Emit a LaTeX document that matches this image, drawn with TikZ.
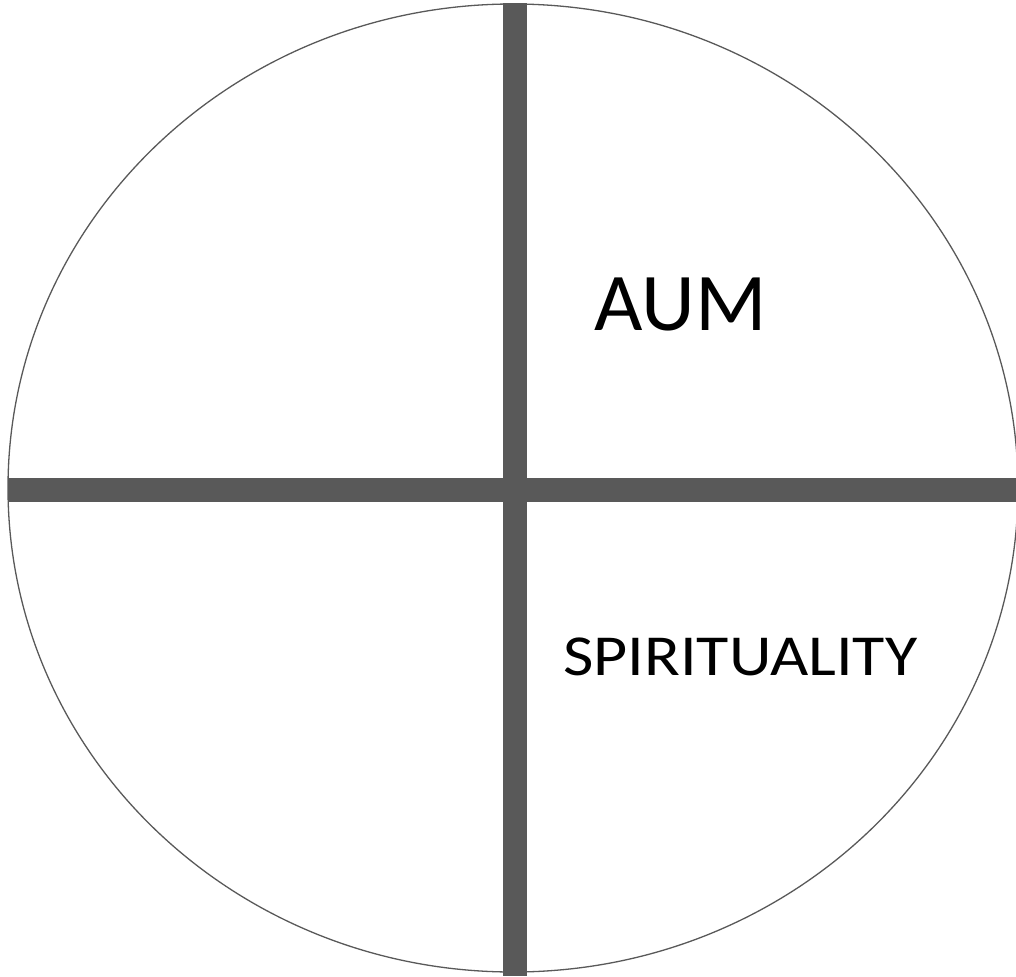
\documentclass[tikz,border=0pt]{standalone}
\usepackage{fontspec}
\setmainfont{Carlito}
\definecolor{bargray}{HTML}{595959}
\begin{document}
\begin{tikzpicture}[x=1pt,y=-1pt,
  bar/.style={fill=bargray,draw=none},
  rim/.style={draw=bargray,line width=1.3pt},
  lbl/.style={anchor=base west,inner sep=0pt,text=black}]
\useasboundingbox (0,0) rectangle (1016,976);
\begin{scope}
\clip (0,0) rectangle (1016,976);
\draw[rim] (513,488) ellipse [x radius=505, y radius=484];
\end{scope}
\fill[bar] (503,3) rectangle (527,976);
\fill[bar] (8,478) rectangle (1016,502);
\node[lbl,font=\fontsize{82}{90}\selectfont] (aum) at (594,330) {\scalebox{1.02}[1]{AUM}};
\node[lbl,font=\fontsize{58}{66}\selectfont] (spir) at (563,675) {\scalebox{1.14}[1]{SPIRITUALITY}};
\end{tikzpicture}
\end{document}
